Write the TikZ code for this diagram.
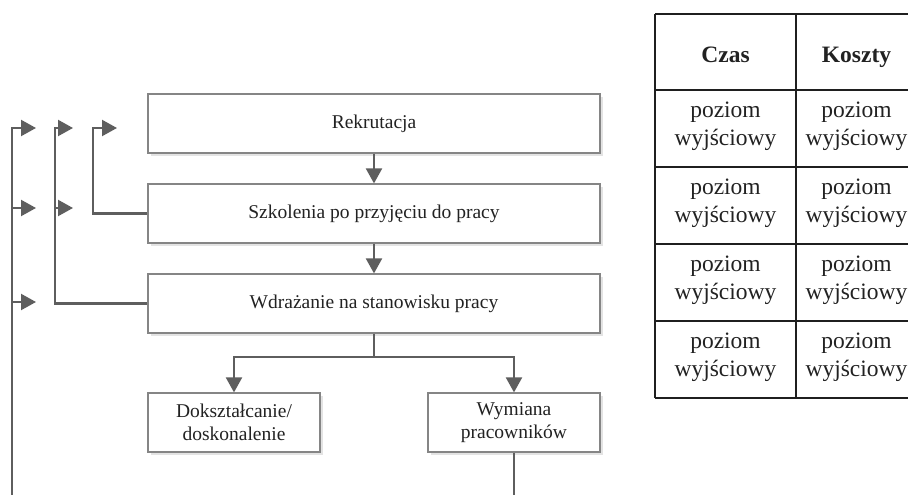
\documentclass[tikz,border=0pt]{standalone}
\usepackage{fontspec}
\setmainfont{Liberation Serif}
\usetikzlibrary{arrows.meta,shadows}

\definecolor{connc}{HTML}{5E5E5E}
\definecolor{boxc}{HTML}{858585}
\definecolor{txtc}{HTML}{222222}

\tikzset{
  stagebox/.style={draw=boxc, line width=1.2pt, fill=white, inner sep=0pt,
    align=center, text=txtc, font=\fontsize{19.5}{23}\selectfont,
    general shadow={fill=black!11, shadow xshift=3pt, shadow yshift=-3pt}},
  conn/.style={draw=connc, line width=2.2pt},
  arr/.style={-{Triangle[length=15pt,width=16pt]}},
  grid/.style={draw=black!88, line width=2.3pt},
  cell/.style={align=center, text=txtc, inner sep=0pt,
    font=\fontsize{23.5}{27.5}\selectfont},
  headcell/.style={anchor=base, text=txtc, inner sep=0pt,
    font=\fontsize{23.5}{27.5}\selectfont\bfseries}
}

\begin{document}
\begin{tikzpicture}[x=1pt, y=-1pt]
\useasboundingbox (0,0) rectangle (908,495);

% process stages
\node[stagebox, minimum width=452pt, minimum height=59pt] (rek) at (374,123.5) {Rekrutacja};
\node[stagebox, minimum width=452pt, minimum height=59pt] (szk) at (374,213.5) {Szkolenia po przyjęciu do pracy};
\node[stagebox, minimum width=452pt, minimum height=59pt] (wdr) at (374,303.5) {Wdrażanie na stanowisku pracy};
\node[stagebox, minimum width=172pt, minimum height=59pt] (dok) at (234,422.5) {Dokształcanie/\\doskonalenie};
\node[stagebox, minimum width=172pt, minimum height=59pt] (wym) at (514,422.5) {Wymiana\\pracowników};

% main flow
\draw[conn, arr] (rek.south) -- (szk.north);
\draw[conn, arr] (szk.south) -- (wdr.north);
\draw[conn] (wdr.south) -- ++(0,23) coordinate (split);
\draw[conn, arr] (split) -| (dok.north);
\draw[conn, arr] (split) -| (wym.north);

% feedback rails on the left
\coordinate (ra) at (12,495);
\coordinate (rb) at (55,0);
\coordinate (rc) at (93,0);
\coordinate (a1) at (36,128);
\coordinate (a2) at (36,208);
\coordinate (a3) at (36,302);
\coordinate (b1) at (73,128);
\coordinate (b2) at (73,208);
\coordinate (c1) at (117,128);

\draw[conn] (wym.south) -- (wym.south |- ra);
\draw[conn, arr] (ra) |- (a1);
\draw[conn, arr] (ra |- a2) -- (a2);
\draw[conn, arr] (ra |- a3) -- (a3);
\draw[conn, arr] (wdr.west) -| (rb |- b1) -- (b1);
\draw[conn, arr] (rb |- b2) -- (b2);
\draw[conn, arr] (szk.west) -| (rc |- c1) -- (c1);

% table of levels
\draw[grid] (655,14) -- (655,398);
\draw[grid] (796,14) -- (796,398);
\foreach \yy in {14,90,167,244,321,398}
  \draw[grid] (655,\yy) -- (908,\yy);

\node[headcell] (hczas) at (725.5,62.5) {Czas};
\node[headcell] (hkoszt) at (856.5,62.5) {Koszty};
\foreach \yy/\nm in {126.5/r1,203.5/r2,280.5/r3,357.5/r4}{
  \node[cell] (\nm a) at (725.5,\yy) {poziom\\wyjściowy};
  \node[cell] (\nm b) at (856.5,\yy) {poziom\\wyjściowy};
}
\end{tikzpicture}
\end{document}
